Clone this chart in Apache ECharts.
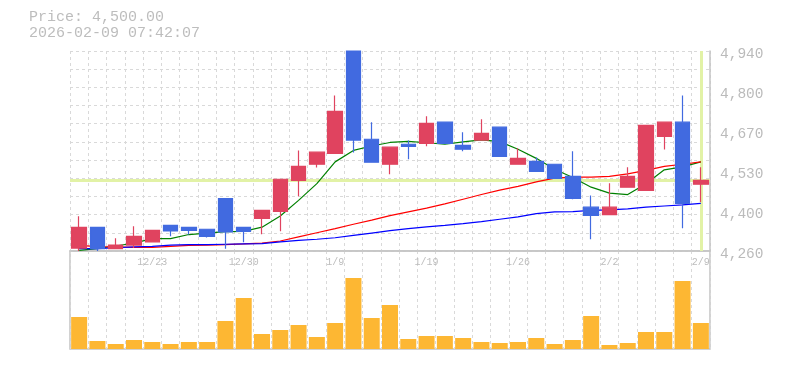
<!DOCTYPE html>
<html>
<head>
<meta charset="utf-8">
<script src="https://cdn.jsdelivr.net/npm/echarts@6/dist/echarts.min.js"></script>
<style>
html,body{margin:0;padding:0;background:#fff;}
#chart{width:785px;height:370px;}
</style>
</head>
<body>
<div id="chart"></div>
<script>
const dates = ['12/17','12/18','12/19','12/22','12/23','12/24','12/25','12/26','12/29','12/30',
  '1/5','1/6','1/7','1/8','1/9','1/13','1/14','1/15','1/16','1/19',
  '1/20','1/21','1/22','1/23','1/26','1/27','1/28','1/29','1/30','2/2',
  '2/3','2/4','2/5','2/6','2/9'];
const opens  = [4270,4340,4268,4280,4291,4347,4340,4334,4438,4340,4371,4395,4500,4555,4592,4940,4640,4555,4623,4626,4698,4619,4637,4681,4555,4565,4555,4514,4409,4384,4477,4466,4650,4698,4487];
const closes = [4340,4268,4280,4310,4330,4328,4330,4310,4325,4327,4398,4504,4548,4596,4735,4637,4562,4613,4616,4694,4626,4606,4660,4582,4575,4531,4507,4439,4381,4409,4514,4687,4698,4422,4500];
const highs  = [4378,4340,4303,4344,4330,4347,4340,4334,4438,4340,4398,4504,4602,4596,4789,4940,4698,4613,4636,4718,4698,4664,4708,4681,4609,4578,4555,4599,4449,4490,4545,4687,4698,4789,4545];
const lows   = [4260,4260,4266,4270,4291,4310,4316,4306,4268,4290,4317,4327,4446,4544,4592,4595,4562,4521,4572,4616,4626,4599,4637,4582,4555,4531,4507,4436,4300,4384,4477,4466,4605,4337,4427];
const ma5  = [4262,4268,4277,4287,4302,4302,4316,4321,4326,4327,4341,4379,4432,4489,4563,4602,4617,4629,4633,4628,4623,4631,4638,4632,4606,4575,4538,4510,4477,4457,4452,4489,4536,4546,4563];
const ma25 = [4279,4275,4274,4272,4272,4276,4279,4280,4282,4284,4287,4294,4308,4322,4336,4351,4365,4380,4393,4406,4420,4436,4452,4467,4480,4495,4508,4511,4511,4514,4522,4534,4548,4555,4563];
const ma75 = [4268,4268,4271,4274,4276,4280,4282,4282,4283,4284,4285,4291,4296,4300,4305,4313,4321,4329,4336,4342,4347,4353,4360,4368,4376,4387,4393,4394,4398,4400,4403,4409,4413,4417,4422];
const volumes = [96,24,15,27,21,15,21,21,84,153,45,57,72,36,78,213,93,132,30,39,39,33,21,18,21,33,15,27,99,12,18,51,51,204,78];
const priceTickLabels = ['4,260','4,400','4,530','4,670','4,800','4,940'];
const currentPrice = 4500;
const titleLines = ['Price: 4,500.00', '2026-02-09 07:42:07'];

const candleData = dates.map((d, i) => [opens[i], closes[i], lows[i], highs[i]]);

const MONO = '"Liberation Mono", "DejaVu Sans Mono", monospace';
const GRIDLINE = { show: true, lineStyle: { color: '#d9d9d9', type: [3, 3], width: 1 } };
const AXISLINE = { show: true, lineStyle: { color: '#c4c4c4', width: 1.5 } };
const HL = '#e2f2a6';

const chart = echarts.init(document.getElementById('chart'), null, { renderer: 'canvas' });
chart.setOption({
  animation: false,
  backgroundColor: '#ffffff',
  title: {
    text: titleLines.join('\n'),
    left: 29, top: 9, padding: 0,
    textStyle: { fontFamily: MONO, fontSize: 15, fontWeight: 'normal', color: '#bdbdbd', lineHeight: 16 }
  },
  grid: [
    { left: 70, top: 51, width: 640, height: 200 },
    { left: 70, top: 251, width: 640, height: 98, show: true, borderColor: '#c4c4c4', borderWidth: 1.5, backgroundColor: 'transparent' }
  ],
  xAxis: [
    { type: 'category', gridIndex: 0, data: dates, boundaryGap: true,
      axisLine: AXISLINE, axisTick: { show: false },
      axisLabel: { show: true, interval: (idx) => idx % 5 === 4, margin: 6, fontFamily: MONO, fontSize: 10, color: '#bdbdbd' },
      splitLine: Object.assign({ interval: 0 }, GRIDLINE) },
    { type: 'category', gridIndex: 1, data: dates, boundaryGap: true,
      axisLine: { show: false }, axisTick: { show: false }, axisLabel: { show: false },
      splitLine: Object.assign({ interval: 0 }, GRIDLINE) }
  ],
  yAxis: [
    { type: 'value', gridIndex: 0, min: 4260, max: 4940, position: 'right', scale: true,
      axisLine: AXISLINE, axisTick: { show: false }, axisLabel: { show: false }, splitLine: { show: false } },
    { type: 'value', gridIndex: 0, min: 0, max: 5, interval: 1, position: 'right',
      axisLine: { show: false }, axisTick: { show: false }, splitLine: { show: false },
      axisLabel: { show: true, margin: 10,
        formatter: (v) => '{p|' + priceTickLabels[Math.round(v)] + '}',
        rich: { p: { fontFamily: MONO, fontSize: 14.5, color: '#bbbbbb', padding: [6, 0, 0, 0] } } } },
    { type: 'value', gridIndex: 0, min: 0, max: 11, interval: 1, position: 'left',
      axisLine: { show: false }, axisTick: { show: false }, axisLabel: { show: false }, splitLine: GRIDLINE },
    { type: 'value', gridIndex: 1, min: 0, max: 294,
      axisLine: { show: false }, axisTick: { show: false }, axisLabel: { show: false }, splitLine: { show: false } }
  ],
  series: [
    { type: 'line', name: 'guide', xAxisIndex: 0, yAxisIndex: 0, data: [], z: 1,
      markLine: { z: 1, silent: true, symbol: ['none', 'none'], label: { show: false },
        lineStyle: { color: HL, width: 3, type: 'solid' },
        data: [ { yAxis: currentPrice }, { xAxis: dates.length - 1 } ] } },
    { type: 'line', name: 'MA5', xAxisIndex: 0, yAxisIndex: 0, data: ma5, showSymbol: false, z: 2,
      lineStyle: { color: '#008000', width: 1.2 } },
    { type: 'line', name: 'MA25', xAxisIndex: 0, yAxisIndex: 0, data: ma25, showSymbol: false, z: 2,
      lineStyle: { color: '#ff0000', width: 1.2 } },
    { type: 'line', name: 'MA75', xAxisIndex: 0, yAxisIndex: 0, data: ma75, showSymbol: false, z: 2,
      lineStyle: { color: '#0000ff', width: 1.2 } },
    { type: 'candlestick', name: 'Price', xAxisIndex: 0, yAxisIndex: 0, data: candleData, barWidth: 15, z: 3,
      itemStyle: { color: '#e0435f', color0: '#416ae0', borderColor: '#e0435f', borderColor0: '#416ae0', borderWidth: 1.2 } },
    { type: 'bar', name: 'Volume', xAxisIndex: 1, yAxisIndex: 3, data: volumes, barWidth: 16, z: 2,
      itemStyle: { color: '#fdb733' } }
  ]
});
</script>
</body>
</html>
